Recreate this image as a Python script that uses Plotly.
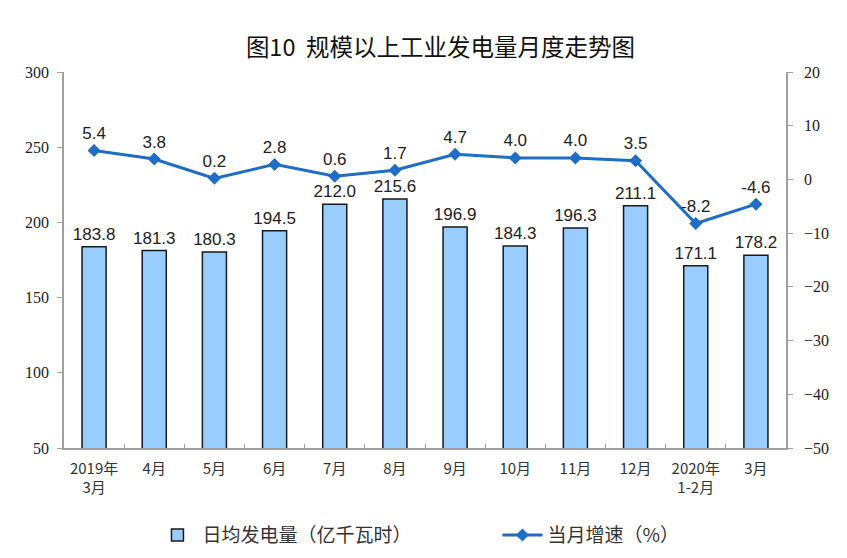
import plotly.graph_objects as go

categories = ["2019年<br>3月", "4月", "5月", "6月", "7月", "8月", "9月", "10月", "11月", "12月", "2020年<br>1-2月", "3月"]
daily_output = [183.8, 181.3, 180.3, 194.5, 212.0, 215.6, 196.9, 184.3, 196.3, 211.1, 171.1, 178.2]
growth = [5.4, 3.8, 0.2, 2.8, 0.6, 1.7, 4.7, 4.0, 4.0, 3.5, -8.2, -4.6]

fig = go.Figure()
fig.add_trace(go.Bar(
    x=categories, y=daily_output, name="日均发电量（亿千瓦时）",
    marker=dict(color="#99CCFF", line=dict(color="#1a1a1a", width=1.5)),
    text=[f"{v:.1f}" for v in daily_output], textposition="outside",
    constraintext="none",
    textfont=dict(family="Liberation Sans, Arial", size=17, color="#222"),
    cliponaxis=False,
))
fig.add_trace(go.Scatter(
    x=categories, y=growth, name="当月增速（%）", yaxis="y2",
    mode="lines+markers+text",
    line=dict(color="#1F6DC4", width=3),
    marker=dict(symbol="diamond", size=10, color="#1F6DC4"),
    text=[f"{v:.1f}" for v in growth], textposition="top center",
    textfont=dict(family="Liberation Sans, Arial", size=17, color="#222"),
    cliponaxis=False,
))

fig.update_layout(
    width=847, height=558,
    margin=dict(l=64, r=61, t=72, b=110),
    paper_bgcolor="white", plot_bgcolor="white",
    title=dict(text="图10  规模以上工业发电量月度走势图", x=0.52, xanchor="center", y=0.915, yanchor="middle",
               font=dict(family="Noto Sans CJK SC", size=23.5, color="#111")),
    bargap=0.6,
    showlegend=True,
    legend=dict(orientation="h", xref="container", x=0.18, xanchor="left",
                yref="container", y=0.041, yanchor="middle",
                font=dict(family="Noto Sans CJK SC", size=19, color="#333"),
                entrywidth=290, itemwidth=40),
    xaxis=dict(range=[-0.5, 11.5], showline=True, linecolor="#a0a0a0", linewidth=1.5, ticks="inside",
               tickson="boundaries", ticklen=4, tickcolor="#a0a0a0", showgrid=False, ticklabelstandoff=6,
               tickangle=0, automargin=False,
               tickfont=dict(family="Noto Sans CJK SC", size=15, color="#333")),
    yaxis=dict(range=[50, 300], dtick=50, showline=True, linecolor="#a0a0a0", linewidth=1.5,
               ticks="outside", ticklen=5, tickcolor="#a0a0a0", showgrid=False, zeroline=False,
               ticklabelstandoff=5, automargin=False,
               tickfont=dict(family="Liberation Serif", size=16, color="#222")),
    yaxis2=dict(range=[-50, 20], dtick=10, overlaying="y", side="right", showline=True, linecolor="#a0a0a0",
                linewidth=1.5, ticks="outside", ticklen=5, tickcolor="#a0a0a0", showgrid=False, zeroline=False,
                ticklabelstandoff=8, automargin=False,
                tickfont=dict(family="Liberation Serif", size=16, color="#222")),
)

fig.write_html("out.html")
